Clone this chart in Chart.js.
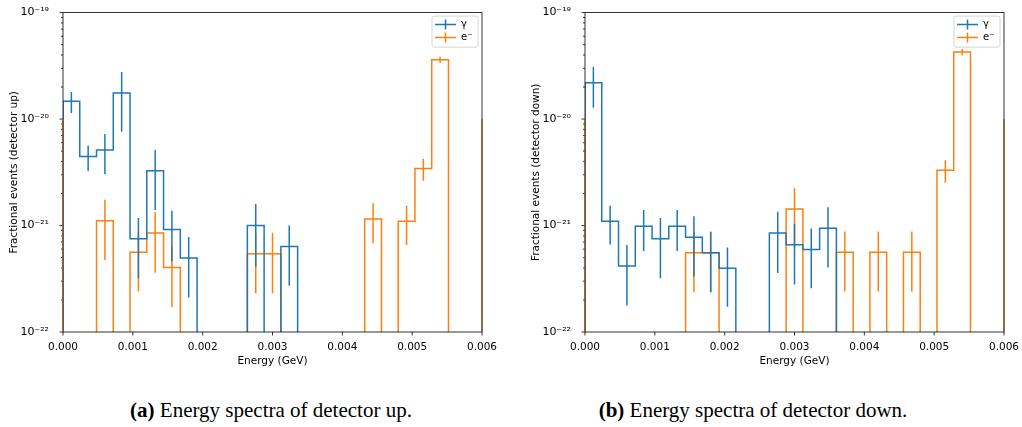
<!DOCTYPE html>
<html>
<head>
<meta charset="utf-8">
<script src="https://cdn.jsdelivr.net/npm/chart.js@4.4.1/dist/chart.umd.min.js"></script>
<style>
body { margin: 0; background: #fff; width: 1022px; height: 427px; overflow: hidden; position: relative; }
.box { position: absolute; top: 0; width: 511px; height: 370px; }
.cap { position: absolute; top: 400px; font-family: 'Liberation Serif', serif; font-size: 21px; line-height: 1; color: #000; white-space: nowrap; transform: translateX(-50%); }
</style>
</head>
<body>
<div class="box" style="left:0"><canvas id="up"></canvas></div>
<div class="box" style="left:511px"><canvas id="down"></canvas></div>
<div class="cap" style="left:271px"><b>(a)</b> Energy spectra of detector up.</div>
<div class="cap" style="left:753px"><b>(b)</b> Energy spectra of detector down.</div>
<script>
// bin edges (GeV), 25 bins
const binEdges = [0, 0.00024, 0.00048, 0.00072, 0.00096, 0.0012, 0.00144, 0.00168, 0.00192, 0.00216,
  0.0024, 0.00264, 0.00288, 0.00312, 0.00336, 0.0036, 0.00384, 0.00408, 0.00432, 0.00456,
  0.0048, 0.00504, 0.00528, 0.00552, 0.00576, 0.006];

// detector up
const upGamma    = [1.47e-20, 4.45e-21, 5.13e-21, 1.76e-20, 7.5e-22, 3.27e-21, 9.2e-22, 4.95e-22, 0, 0, 0, 1.0e-21, 0, 6.37e-22, 0, 0, 0, 0, 0, 0, 0, 0, 0, 0, 0];
const upGammaErr = [3.3e-21, 1.2e-21, 2.1e-21, 1.0e-20, 4.3e-22, 1.87e-21, 4.6e-22, 2.84e-22, 0, 0, 0, 5.9e-22, 0, 3.65e-22, 0, 0, 0, 0, 0, 0, 0, 0, 0, 0, 0];
const upElec     = [0, 0, 1.11e-21, 0, 5.6e-22, 8.5e-22, 4.03e-22, 0, 0, 0, 0, 5.43e-22, 5.43e-22, 0, 0, 0, 0, 0, 1.15e-21, 0, 1.1e-21, 3.44e-21, 3.61e-20, 0, 0];
const upElecErr  = [0, 0, 6.35e-22, 0, 3.2e-22, 4.9e-22, 2.32e-22, 0, 0, 0, 0, 3.12e-22, 3.12e-22, 0, 0, 0, 0, 0, 4.7e-22, 0, 4.45e-22, 8e-22, 2.4e-21, 0, 0];

// detector down
const downGamma    = [2.19e-20, 1.1e-21, 4.17e-22, 9.86e-22, 7.5e-22, 9.86e-22, 7.78e-22, 5.56e-22, 3.98e-22, 0, 0, 8.53e-22, 6.6e-22, 5.97e-22, 9.43e-22, 0, 0, 0, 0, 0, 0, 0, 0, 0, 0];
const downGammaErr = [9.1e-21, 4.35e-22, 2.4e-22, 4.1e-22, 4.3e-22, 4.1e-22, 4.45e-22, 3.2e-22, 2.25e-22, 0, 0, 4.95e-22, 3.8e-22, 3.4e-22, 5.4e-22, 0, 0, 0, 0, 0, 0, 0, 0, 0, 0];
const downElec     = [0, 0, 0, 0, 0, 0, 5.56e-22, 5.56e-22, 0, 0, 0, 0, 1.43e-21, 0, 0, 5.6e-22, 0, 5.6e-22, 0, 5.6e-22, 0, 3.31e-21, 4.26e-20, 0, 0];
const downElecErr  = [0, 0, 0, 0, 0, 0, 3.2e-22, 3.2e-22, 0, 0, 0, 0, 8.15e-22, 0, 0, 3.2e-22, 0, 3.2e-22, 0, 3.2e-22, 0, 7.85e-22, 3e-21, 0, 0];

const seriesNames = ['γ', 'e⁻'];
const xTicks = [0, 0.001, 0.002, 0.003, 0.004, 0.005, 0.006];
const yTicks = [1e-22, 1e-21, 1e-20, 1e-19];
const edgeMarkX = [0, 0.006];
const edgeMarkTop = 1e-20;

const BLUE = '#1f77b4', ORANGE = '#ff7f0e';
const FLOOR = 1e-24;

Chart.defaults.font.family = "'DejaVu Sans', sans-serif";
Chart.defaults.font.size = 10;
Chart.defaults.color = '#000';

const SUP = { '-': '⁻', '0': '⁰', '1': '¹', '2': '²', '3': '³', '4': '⁴', '5': '⁵', '6': '⁶', '7': '⁷', '8': '⁸', '9': '⁹' };
function powLabel(v) {
  const e = String(Math.round(Math.log10(v)));
  return '10' + e.split('').map(c => SUP[c]).join('');
}

function stepPoints(vals) {
  const pts = [{ x: binEdges[0], y: FLOOR }];
  vals.forEach((v, i) => pts.push({ x: binEdges[i], y: v > 0 ? v : FLOOR }));
  pts.push({ x: binEdges[binEdges.length - 1], y: FLOOR });
  return pts;
}

const decor = {
  id: 'decor',
  afterDatasetDraw(chart, args) {
    const ds = chart.data.datasets[args.index];
    if (!ds.errors) return;
    const xs = chart.scales.x, ys = chart.scales.y, ctx = chart.ctx, a = chart.chartArea;
    ctx.save();
    ctx.beginPath(); ctx.rect(a.left, a.top, a.width, a.height); ctx.clip();
    ctx.strokeStyle = ds.borderColor; ctx.lineWidth = 1.5;
    ds.values.forEach((v, i) => {
      if (!(v > 0)) return;
      const cx = xs.getPixelForValue((binEdges[i] + binEdges[i + 1]) / 2);
      ctx.beginPath();
      ctx.moveTo(cx, ys.getPixelForValue(v + ds.errors[i]));
      ctx.lineTo(cx, ys.getPixelForValue(Math.max(v - ds.errors[i], FLOOR)));
      ctx.stroke();
    });
    ctx.restore();
  },
  afterDraw(chart) {
    const xs = chart.scales.x, ys = chart.scales.y, ctx = chart.ctx, a = chart.chartArea;
    ctx.save();
    // ticks
    ctx.strokeStyle = '#000'; ctx.lineWidth = 0.8;
    ctx.beginPath();
    xTicks.forEach(t => { const p = xs.getPixelForValue(t); ctx.moveTo(p, a.bottom); ctx.lineTo(p, a.bottom + 3.5); });
    yTicks.forEach(t => { const p = ys.getPixelForValue(t); ctx.moveTo(a.left - 3.5, p); ctx.lineTo(a.left, p); });
    for (let d = 0; d < yTicks.length - 1; d++) {
      for (let k = 2; k <= 9; k++) {
        const p = ys.getPixelForValue(yTicks[d] * k);
        ctx.moveTo(a.left - 2, p); ctx.lineTo(a.left, p);
      }
    }
    ctx.stroke();
    // frame
    ctx.strokeRect(a.left, a.top, a.width, a.height);
    // brownish edge marks
    ctx.strokeStyle = '#8c5a2e'; ctx.lineWidth = 1.5;
    ctx.beginPath();
    edgeMarkX.forEach(x => { const p = xs.getPixelForValue(x); ctx.moveTo(p, ys.getPixelForValue(edgeMarkTop)); ctx.lineTo(p, a.bottom); });
    ctx.stroke();
    // legend
    const w = 46, h = 31, bx = a.right - 4 - w, by = a.top + 3.5;
    ctx.fillStyle = 'rgba(255,255,255,0.8)';
    ctx.strokeStyle = '#d6d6d6'; ctx.lineWidth = 1;
    ctx.beginPath(); ctx.roundRect(bx, by, w, h, 2); ctx.fill(); ctx.stroke();
    const cols = [BLUE, ORANGE];
    seriesNames.forEach((name, i) => {
      const ly = by + 8.5 + i * 13;
      ctx.strokeStyle = cols[i]; ctx.lineWidth = 1.5;
      ctx.beginPath();
      ctx.moveTo(bx + 3, ly); ctx.lineTo(bx + 24, ly);
      ctx.moveTo(bx + 13.5, ly - 5); ctx.lineTo(bx + 13.5, ly + 5);
      ctx.stroke();
      ctx.fillStyle = '#000'; ctx.font = "10px 'DejaVu Sans'"; ctx.textBaseline = 'middle';
      ctx.fillText(name, bx + 29, ly);
    });
    ctx.restore();
  }
};

function makeChart(id, gamma, gammaErr, elec, elecErr, yTitle, padLeft, padRight) {
  const ctx = document.getElementById(id);
  new Chart(ctx, {
    type: 'line',
    data: {
      datasets: [
        { label: seriesNames[0], data: stepPoints(gamma), values: gamma, errors: gammaErr, borderColor: BLUE, borderWidth: 1.5, pointRadius: 0, stepped: true, fill: false },
        { label: seriesNames[1], data: stepPoints(elec), values: elec, errors: elecErr, borderColor: ORANGE, borderWidth: 1.5, pointRadius: 0, stepped: true, fill: false }
      ]
    },
    options: {
      responsive: true,
      maintainAspectRatio: false,
      animation: false,
      layout: { padding: { left: padLeft, right: padRight, top: 11, bottom: 0 } },
      plugins: { legend: { display: false }, tooltip: { enabled: false } },
      scales: {
        x: {
          type: 'linear', min: 0, max: 0.006,
          afterBuildTicks: s => { s.ticks = xTicks.map(v => ({ value: v })); },
          afterFit: s => { s.height = 38; },
          ticks: { callback: v => Number(v).toFixed(3), padding: 1, maxRotation: 0, autoSkip: false, font: { size: 10.5 } },
          grid: { display: false }, border: { display: false },
          title: { display: true, text: 'Energy (GeV)', font: { size: 10.5 }, padding: { top: 2, bottom: 2 } }
        },
        y: {
          type: 'logarithmic', min: 1e-22, max: 1e-19,
          afterBuildTicks: s => { s.ticks = yTicks.map(v => ({ value: v })); },
          afterFit: s => { s.width = 63; },
          ticks: { callback: v => powLabel(v), padding: 6, font: { size: 11 } },
          grid: { display: false }, border: { display: false },
          title: { display: true, text: yTitle, font: { size: 10.5 }, padding: { top: 8, bottom: 4 } }
        }
      }
    },
    plugins: [decor]
  });
}

makeChart('up', upGamma, upGammaErr, upElec, upElecErr, 'Fractional events (detector up)', 0, 29);
makeChart('down', downGamma, downGammaErr, downElec, downElecErr, 'Fractional events (detector down)', 11, 18);
</script>
</body>
</html>
